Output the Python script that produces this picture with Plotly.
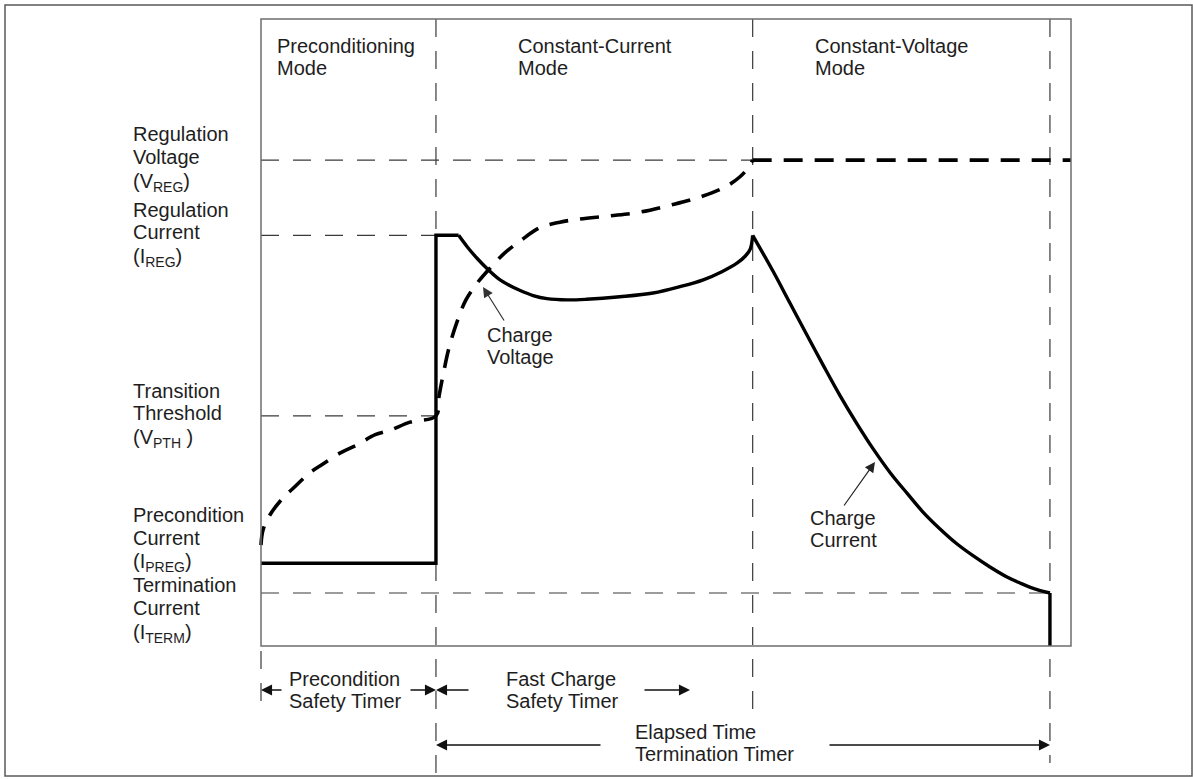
import plotly.graph_objects as go

# ---------------- data (arbitrary units: time 0..100 across the box, level 0..100) ----------
mode_times = [0, 21.6, 60.7, 97.4]          # start, precond->CC, CC->CV, termination
level_names = ["V_REG", "I_REG", "V_PTH", "I_PREG", "I_TERM"]
level_values = [77.5, 65.5, 36.7, 13.2, 8.45]
V_REG, I_REG, V_PTH, I_PREG, I_TERM = level_values

# charge current (solid)
cur_pre_t = [0, 21.6, 21.6, 24.4]
cur_pre_y = [13.2, 13.2, 65.5, 65.5]
cur_cc_t = [24.4, 25.5, 26.7, 27.9, 29.3, 30.7, 32.0, 33.6, 35.3, 37.8, 40.2, 44.3,
            48.4, 51.7, 54.6, 56.9, 58.8, 59.8, 60.4, 60.7]
cur_cc_y = [65.5, 63.6, 61.8, 60.2, 58.6, 57.5, 56.7, 55.9, 55.4, 55.2, 55.3, 55.7,
            56.3, 57.3, 58.4, 59.7, 61.1, 62.2, 63.3, 65.5]
cur_cv_t = [60.7, 63.2, 65.3, 67.4, 69.4, 71.5, 73.6, 75.6, 77.7, 79.8, 81.7,
            83.8, 85.9, 87.9, 90.0, 92.1, 93.7, 94.9, 96.2, 97.4]
cur_cv_y = [65.5, 59.8, 54.7, 49.6, 44.8, 39.9, 35.4, 31.4, 27.6, 24.3, 21.4,
            18.7, 16.3, 14.4, 12.6, 11.0, 10.05, 9.4, 8.85, 8.45]
cur_end_t = [97.4, 97.4]
cur_end_y = [8.45, 0]

# charge voltage (thick dashed)
volt_t = [0, 0.25, 1.1, 2.7, 4.0, 6.0, 7.6, 9.8, 11.9, 14.1, 15.9, 18.4, 21.6,
          22.0, 22.6, 23.2, 24.2, 25.3, 26.7, 28.3, 30.1, 32.0, 34.4, 36.9, 39.4,
          43.1, 46.8, 50.5, 54.2, 57.3, 59.1, 60.1, 60.7]
volt_y = [16.1, 18.5, 20.9, 23.6, 25.2, 27.6, 29.0, 30.8, 32.1, 33.7, 34.4, 35.7, 36.7,
          40.0, 44.0, 47.5, 51.7, 55.2, 57.9, 60.3, 62.7, 64.6, 66.7, 67.6, 68.1,
          68.6, 69.2, 70.3, 71.6, 73.2, 74.8, 76.2, 77.5]
volt_cv_t = [60.7, 100]
volt_cv_y = [77.5, 77.5]

# ---------------- layout geometry ----------------
W, H = 1193, 779
BOX_L, BOX_R, BOX_T, BOX_B = 261, 1071, 19, 646
sx = (BOX_R - BOX_L) / 100.0
sy = (BOX_B - BOX_T) / 100.0


def tx(px):
    return (px - BOX_L) / sx


def ly(py):
    return (BOX_B - py) / sy


FONT = "Liberation Sans, Arial, sans-serif"
TXT = "#1e1e1e"
REF = dict(color="#3a3a3a", width=1.2, dash="18px,14px")
THICK = dict(color="#000000", width=3.6, dash="19px,12px")
SOLID = dict(color="#000000", width=3.4)

fig = go.Figure()


def line(xs, ys, style, shape="linear"):
    fig.add_trace(go.Scatter(x=xs, y=ys, mode="lines", line=dict(style, shape=shape),
                             hoverinfo="skip", showlegend=False))


# reference (thin dashed) horizontal lines
line([mode_times[0], mode_times[2]], [V_REG, V_REG], REF)
line([mode_times[0], mode_times[1]], [I_REG, I_REG], REF)
line([mode_times[0], mode_times[1]], [V_PTH, V_PTH], REF)
line([mode_times[0], mode_times[3]], [I_TERM, I_TERM], REF)
# vertical mode boundaries
line([mode_times[0], mode_times[0]], [ly(651), ly(703)], REF)
line([mode_times[1], mode_times[1]], [100, ly(773)], REF)
line([mode_times[2], mode_times[2]], [100, ly(710)], REF)
line([mode_times[3], mode_times[3]], [100, ly(763)], REF)

# voltage
line(volt_t, volt_y, THICK, "spline")
line(volt_cv_t, volt_cv_y, THICK)
# current
line(cur_pre_t, cur_pre_y, SOLID)
line(cur_cc_t, cur_cc_y, SOLID, "spline")
line(cur_cv_t, cur_cv_y, SOLID, "spline")
line(cur_end_t, cur_end_y, SOLID)

shapes = [
    dict(type="rect", xref="x", yref="y", x0=0, x1=100, y0=0, y1=100,
         line=dict(color="#6e6e6e", width=1.5)),
    dict(type="rect", xref="paper", yref="paper", x0=5 / W, x1=1192 / W,
         y0=1 - 776 / H, y1=1 - 5 / H, line=dict(color="#5a5a5a", width=1.5)),
]

annotations = []


def text(s, x_px, y_px):
    annotations.append(dict(x=tx(x_px), y=ly(y_px), text=s, showarrow=False,
                            xanchor="left", yanchor="middle",
                            font=dict(family=FONT, size=20, color=TXT)))


def group(lines, x_px, y_first, gaps):
    y = y_first
    for i, s in enumerate(lines):
        text(s, x_px, y)
        if i < len(gaps):
            y += gaps[i]


# left labels
group(["Regulation", "Voltage", "(V<sub>REG</sub>)"], 131, 134, [23, 25])
group(["Regulation", "Current", "(I<sub>REG</sub>)"], 131, 210, [22, 25])
group(["Transition", "Threshold", "(V<sub>PTH</sub> )"], 131, 391, [22, 25])
group(["Precondition", "Current", "(I<sub>PREG</sub>)"], 131, 515, [23, 24])
group(["Termination", "Current", "(I<sub>TERM</sub>)"], 131, 585, [23, 25])
# mode labels
group(["Preconditioning", "Mode"], 275, 46, [22])
group(["Constant-Current", "Mode"], 516, 46, [22])
group(["Constant-Voltage", "Mode"], 813, 46, [22])
# curve labels
group(["Charge", "Voltage"], 485, 335, [22])
group(["Charge", "Current"], 808, 518, [22])
# timers
group(["Precondition", "Safety Timer"], 287, 679, [22])
group(["Fast Charge", "Safety Timer"], 504, 679, [22])
group(["Elapsed Time", "Termination Timer"], 633, 732, [22])


def arrow(head_px, tail_px, width=1.3, size=1.7, color="#111111"):
    annotations.append(dict(x=tx(head_px[0]), y=ly(head_px[1]),
                            ax=tx(tail_px[0]), ay=ly(tail_px[1]),
                            axref="x", ayref="y", xref="x", yref="y",
                            text="", showarrow=True, arrowhead=2, arrowsize=size,
                            arrowwidth=width, arrowcolor=color, standoff=0,
                            startstandoff=0))


arrow((261, 690), (283, 690))
arrow((436, 690), (409, 690))
arrow((436, 690), (470, 690))
arrow((690, 690), (643, 690))
arrow((436, 745), (602, 745))
arrow((1050, 745), (828, 745))
arrow((483, 287), (505, 322), width=1.2, color="#333333")
arrow((875, 462), (843, 507), width=1.2, color="#222222")

fig.update_layout(
    width=W, height=H, autosize=False,
    margin=dict(l=0, r=0, t=0, b=0, pad=0),
    paper_bgcolor="white", plot_bgcolor="white",
    xaxis=dict(range=[tx(0), tx(W)], visible=False, fixedrange=True),
    yaxis=dict(range=[ly(H), ly(0)], visible=False, fixedrange=True),
    shapes=shapes, annotations=annotations, showlegend=False,
)

fig.write_html("out.html", config={"displayModeBar": False})
